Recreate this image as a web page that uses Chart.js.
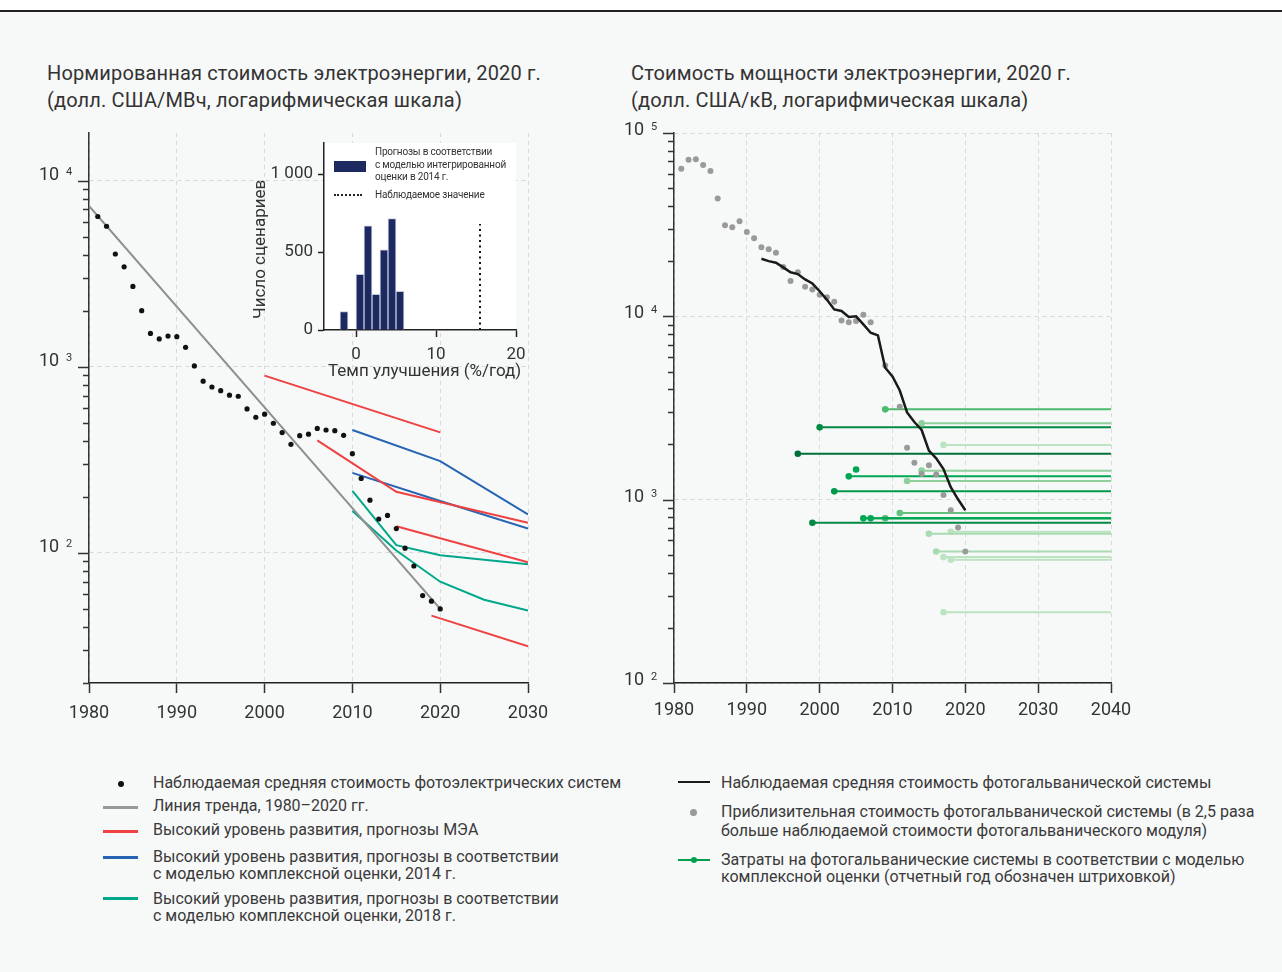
<!DOCTYPE html>
<html lang="ru">
<head>
<meta charset="utf-8">
<script src="https://cdn.jsdelivr.net/npm/chart.js@4.4.1/dist/chart.umd.min.js"></script>
<style>
  body { margin: 0; background: #fff; font-family: Roboto, "Noto Sans", sans-serif; color: #333; }
  #page { position: relative; width: 1282px; height: 972px; background: #f7f8f8; overflow: hidden; }
  #topline { position: absolute; left: 0; top: 0; width: 1282px; height: 10px; background: #fff; border-bottom: 2px solid #222; }
  .title { position: absolute; font-size: 20px; letter-spacing: 0.15px; line-height: 27px; color: #333; white-space: nowrap; }
  canvas { position: absolute; }
  .leg { position: absolute; font-size: 16px; line-height: 17px; color: #3a3a3a; white-space: nowrap; }
  .sym { position: absolute; }
  .itxt { position: absolute; font-size: 10px; line-height: 12.5px; color: #333; white-space: nowrap; letter-spacing: -0.2px; }
  .axt { position: absolute; font-size: 17px; color: #333; white-space: nowrap; }
</style>
</head>
<body>
<div id="page">
  <div id="topline"></div>

  <div class="title" style="left:47px; top:60px;">Нормированная стоимость электроэнергии, 2020 г.<br>(долл. США/МВч, логарифмическая шкала)</div>
  <div class="title" style="left:631px; top:60px;">Стоимость мощности электроэнергии, 2020 г.<br>(долл. США/кВ, логарифмическая шкала)</div>

  <canvas id="lcoe" width="560" height="640" style="left:0; top:100px;"></canvas>
  <canvas id="hist" width="290" height="250" style="left:240px; top:135px;"></canvas>
  <canvas id="capex" width="580" height="640" style="left:580px; top:100px;"></canvas>

  <!-- inset legend and titles -->
  <div class="sym" style="left:334px; top:161px; width:32px; height:11px; background:#1d2a62;"></div>
  <div class="itxt" style="left:375px; top:146px;">Прогнозы в соответствии<br>с моделью интегрированной<br>оценки в 2014 г.</div>
  <div class="sym" style="left:334px; top:194px; width:28px; border-top:2px dotted #222;"></div>
  <div class="itxt" style="left:375px; top:189px;">Наблюдаемое значение</div>
  <div class="axt" style="left:328px; top:360px;">Темп улучшения (%/год)</div>
  <div class="axt" style="left:196px; top:244px; transform: rotate(-90deg); transform-origin: 64px 11px;">Число сценариев</div>

  <!-- left legend -->
  <div class="sym" style="left:118px; top:781px; width:6px; height:6px; border-radius:50%; background:#111;"></div>
  <div class="sym" style="left:103px; top:806px; width:35px; height:3px; background:#999;"></div>
  <div class="sym" style="left:103px; top:830px; width:35px; height:3px; background:#ef4141;"></div>
  <div class="sym" style="left:103px; top:856px; width:35px; height:3px; background:#2563b3;"></div>
  <div class="sym" style="left:103px; top:897px; width:35px; height:3px; background:#00a88a;"></div>
  <div class="leg" style="left:153px; top:774px;">Наблюдаемая средняя стоимость фотоэлектрических систем</div>
  <div class="leg" style="left:153px; top:797px;">Линия тренда, 1980–2020 гг.</div>
  <div class="leg" style="left:153px; top:821px;">Высокий уровень развития, прогнозы МЭА</div>
  <div class="leg" style="left:153px; top:848px;">Высокий уровень развития, прогнозы в соответствии<br>с моделью комплексной оценки, 2014 г.</div>
  <div class="leg" style="left:153px; top:890px;">Высокий уровень развития, прогнозы в соответствии<br>с моделью комплексной оценки, 2018 г.</div>

  <!-- right legend -->
  <div class="sym" style="left:678px; top:781px; width:32px; height:2px; background:#1a1a1a;"></div>
  <div class="sym" style="left:690px; top:809px; width:7px; height:7px; border-radius:50%; background:#999;"></div>
  <div class="sym" style="left:678px; top:859px; width:32px; height:2px; background:#00a050;"></div>
  <div class="sym" style="left:691px; top:857px; width:6px; height:6px; border-radius:50%; background:#00a050;"></div>
  <div class="leg" style="left:721px; top:774px;">Наблюдаемая средняя стоимость фотогальванической системы</div>
  <div class="leg" style="left:721px; top:802px; line-height:19px;">Приблизительная стоимость фотогальванической системы (в 2,5 раза<br>больше наблюдаемой стоимости фотогальванического модуля)</div>
  <div class="leg" style="left:721px; top:851px;">Затраты на фотогальванические системы в соответствии с моделью<br>комплексной оценки (отчетный год обозначен штриховкой)</div>
</div>

<script>
// ---- left panel: levelized cost of PV electricity, USD/MWh ----
const lcoeYears = [1981, 1982, 1983, 1984, 1985, 1986, 1987, 1988, 1989, 1990,
  1991, 1992, 1993, 1994, 1995, 1996, 1997, 1998, 1999, 2000,
  2001, 2002, 2003, 2004, 2005, 2006, 2007, 2008, 2009, 2010,
  2011, 2012, 2013, 2014, 2015, 2016, 2017, 2018, 2019, 2020];
const lcoeObserved = [6410, 5680, 4030, 3440, 2700, 2000, 1510, 1410, 1460, 1450,
  1270, 1010, 836, 778, 743, 703, 694, 593, 535, 556,
  497, 443, 383, 426, 434, 466, 457, 453, 428, 341,
  251, 192, 152, 159, 135, 106, 85, 59, 55, 50];
const trendYears = [1980, 2020];
const trendValues = [7300, 50];

const ieaYears = [[2000, 2020], [2006, 2015, 2030], [2015, 2030], [2019, 2030]];
const ieaValues = [[895, 444], [402, 213, 145], [139, 89], [46, 31.5]];
const iam2014Years = [[2010, 2020, 2030], [2010, 2020, 2030]];
const iam2014Values = [[457, 311, 161], [269, 190, 135]];
const iam2018Years = [[2010, 2015, 2020, 2030], [2010, 2015, 2020, 2025, 2030]];
const iam2018Values = [[215, 110, 97, 87], [168, 103, 70, 56, 49]];

// ---- inset: distribution of improvement rates ----
const rateBins = [-1.5, 0.5, 1.5, 2.5, 3.5, 4.5, 5.5];
const scenarioCounts = [118, 358, 668, 229, 514, 715, 248];
const observedRate = 15.5;
const observedRateTop = 680;

// ---- right panel: PV system capital cost, USD/kW ----
const systemYears = [1992, 1993, 1994, 1995, 1996, 1997, 1998, 1999, 2000, 2001,
  2002, 2003, 2004, 2005, 2006, 2007, 2008, 2009, 2010, 2011,
  2012, 2013, 2014, 2015, 2016, 2017, 2018, 2019, 2020];
const systemCost = [20600, 20000, 19600, 18500, 17400, 17000, 15900, 15100, 13700, 12300,
  10900, 10700, 9910, 10000, 9040, 8140, 7870, 5240, 4700, 3940,
  2990, 2650, 2400, 1850, 1680, 1470, 1170, 1005, 875];
const moduleYears = [1981, 1982, 1983, 1984, 1985, 1986, 1987, 1988, 1989, 1990,
  1991, 1992, 1993, 1994, 1995, 1996, 1997, 1998, 1999, 2000,
  2001, 2002, 2003, 2004, 2005, 2006, 2007, 2009, 2011, 2012,
  2013, 2014, 2015, 2016, 2017, 2018, 2019, 2020];
const moduleBasedCost = [63800, 71500, 72000, 66900, 62000, 43900, 31400, 30600, 33000, 28800,
  26700, 23800, 23200, 22200, 18600, 15600, 17400, 14500, 14000, 13100,
  12700, 12000, 9500, 9270, 9420, 10200, 9270, 5400, 3210, 1920,
  1590, 1380, 1540, 1370, 1060, 875, 706, 522];
const iamStartYears = [2009, 2014, 2000, 2017, 1997, 2005, 2014, 2004, 2012, 2002,
  2011, 2006, 2007, 2009, 1999, 2015, 2018, 2016, 2017, 2018, 2017];
const iamEndYears = [2040, 2040, 2040, 2040, 2040, 2005, 2040, 2040, 2040, 2040,
  2040, 2040, 2040, 2040, 2040, 2040, 2040, 2040, 2040, 2040, 2040];
const iamCosts = [3110, 2610, 2480, 1990, 1780, 1460, 1440, 1340, 1265, 1110,
  846, 791, 791, 791, 748, 652, 668, 522, 486, 470, 243];

const FONT = 'Roboto, "Noto Sans", sans-serif';
const isPow10 = v => Math.abs(Math.log10(v) - Math.round(Math.log10(v))) < 1e-9;

function logTicks(min, max) {
  const out = [];
  for (let e = Math.floor(Math.log10(min)); e <= Math.ceil(Math.log10(max)); e++) {
    for (let m = 1; m < 10; m++) {
      const v = m * Math.pow(10, e);
      if (v >= min && v <= max) out.push(v);
    }
  }
  return out;
}

function pts(xs, ys) { return xs.map((x, i) => ({ x: x, y: ys[i] })); }

// fixed axis size, no automatic label overflow padding
function fixSize(prop, size) {
  return s => {
    s[prop] = size;
    s.paddingTop = 0; s.paddingBottom = 0; s.paddingLeft = 0; s.paddingRight = 0;
  };
}

// minor/major tick marks and "10^n" labels on the log axis
const logAxis = {
  id: 'logAxis',
  afterDraw(chart, args, opts) {
    const y = chart.scales.y, ctx = chart.ctx, x0 = chart.chartArea.left;
    ctx.save();
    ctx.strokeStyle = '#333';
    ctx.lineWidth = 1.5;
    ctx.fillStyle = '#333';
    y.ticks.forEach(t => {
      const py = Math.round(y.getPixelForValue(t.value)) + 0.5;
      const major = isPow10(t.value);
      const len = major ? 11 : 6;
      ctx.beginPath();
      ctx.moveTo(x0 - len, py);
      ctx.lineTo(x0, py);
      ctx.stroke();
      if (major) {
        ctx.textAlign = 'left';
        ctx.textBaseline = 'alphabetic';
        ctx.font = '18px ' + FONT;
        ctx.fillText('10', x0 - 50, py + opts.shift);
        ctx.font = '11px ' + FONT;
        ctx.fillText(String(Math.round(Math.log10(t.value))), x0 - 23, py + opts.shift - 5);
      }
    });
    ctx.restore();
  }
};

const whiteArea = {
  id: 'whiteArea',
  beforeDraw(chart) {
    const a = chart.chartArea, ctx = chart.ctx;
    ctx.save();
    ctx.fillStyle = '#fff';
    ctx.fillRect(a.left, a.top, a.right - a.left, a.bottom - a.top);
    ctx.restore();
  }
};

function xAxis(min, max, pad) {
  return {
    type: 'linear', min: min, max: max,
    afterFit: fixSize('height', 57),
    ticks: { stepSize: 10, color: '#333', font: { family: FONT, size: 18 }, padding: pad,
      callback: v => String(v) },
    grid: { color: '#d8d8d8', lineWidth: 1, tickLength: 10, tickColor: '#333', tickWidth: 1.5 },
    border: { color: '#222', width: 1.5, dash: [4, 4] }
  };
}

function yAxis(min, max, width) {
  return {
    type: 'logarithmic', min: min, max: max,
    afterFit: fixSize('width', width),
    afterBuildTicks: s => { s.ticks = logTicks(min, max).map(v => ({ value: v, major: isPow10(v) })); },
    ticks: { display: false },
    grid: { drawTicks: false, lineWidth: 1,
      color: c => (c.tick && isPow10(c.tick.value)) ? '#d8d8d8' : 'rgba(0,0,0,0)' },
    border: { color: '#333', width: 1.5, dash: [4, 4] }
  };
}

const lineDs = (data, color) => ({ data: data, borderColor: color, backgroundColor: color,
  borderWidth: 2, pointRadius: 0, showLine: true, tension: 0 });

// ---- left chart ----
const lcoeSets = [];
lcoeSets.push({ data: pts(lcoeYears, lcoeObserved), showLine: false, pointRadius: 2.6,
  pointBorderWidth: 0, backgroundColor: '#111', borderColor: '#111' });
lcoeSets.push(lineDs(pts(trendYears, trendValues), '#8f8f8f'));
ieaYears.forEach((ys, i) => lcoeSets.push(lineDs(pts(ys, ieaValues[i]), '#ef4141')));
iam2014Years.forEach((ys, i) => lcoeSets.push(lineDs(pts(ys, iam2014Values[i]), '#2563b3')));
iam2018Years.forEach((ys, i) => lcoeSets.push(lineDs(pts(ys, iam2018Values[i]), '#00a88a')));

new Chart(document.getElementById('lcoe').getContext('2d'), {
  type: 'scatter',
  data: { datasets: lcoeSets },
  options: {
    responsive: false, animation: false,
    layout: { padding: { top: 33, right: 32, left: 0, bottom: 0 } },
    plugins: { legend: { display: false }, tooltip: { enabled: false }, logAxis: { shift: -2 } },
    scales: { x: xAxis(1980, 2030, 10), y: yAxis(20, 18000, 89) }
  },
  plugins: [logAxis]
});

// ---- inset histogram ----
new Chart(document.getElementById('hist').getContext('2d'), {
  data: {
    datasets: [
      { type: 'line', data: [{ x: observedRate, y: 0 }, { x: observedRate, y: observedRateTop }],
        borderColor: '#111', borderWidth: 2, borderDash: [2, 3.5], pointRadius: 0 },
      { type: 'bar', data: pts(rateBins, scenarioCounts), backgroundColor: '#1d2a62',
        borderColor: '#c3c8dc', borderWidth: 1, barPercentage: 1, categoryPercentage: 1 }
    ]
  },
  options: {
    responsive: false, animation: false,
    layout: { padding: { top: 8, right: 14, left: 0, bottom: 0 } },
    plugins: { legend: { display: false }, tooltip: { enabled: false } },
    scales: {
      x: { type: 'linear', min: -4, max: 20, offset: false,
        afterFit: fixSize('height', 55),
        afterBuildTicks: s => { s.ticks = [0, 10, 20].map(v => ({ value: v })); },
        ticks: { color: '#333', font: { family: FONT, size: 17 }, padding: 8 },
        grid: { offset: false, drawOnChartArea: false, tickLength: 7, tickColor: '#222', tickWidth: 1.5 },
        border: { color: '#222', width: 1.5 } },
      y: { type: 'linear', min: 0, max: 1200,
        afterFit: fixSize('width', 84),
        afterBuildTicks: s => { s.ticks = [0, 500, 1000].map(v => ({ value: v })); },
        ticks: { color: '#333', font: { family: FONT, size: 17 }, padding: 5,
          callback: v => v === 1000 ? '1 000' : String(v) },
        grid: { drawOnChartArea: false, tickLength: 6, tickColor: '#222', tickWidth: 1.5 },
        border: { color: '#222', width: 1.5 } }
    }
  },
  plugins: [whiteArea]
});

// ---- right chart ----
function shade(year) {
  if (year <= 1997) return '#00703a';
  if (year <= 2000) return '#008a43';
  if (year <= 2003) return '#009a4a';
  if (year <= 2007) return '#00a651';
  if (year <= 2010) return '#4cbb6c';
  if (year <= 2011) return '#62c27c';
  if (year <= 2014) return '#8fd09d';
  if (year <= 2016) return '#a9dbb2';
  return '#bce3c2';
}

const capexSets = [];
capexSets.push({ data: pts(systemYears, systemCost), showLine: true, borderColor: '#1a1a1a',
  borderWidth: 2.5, pointRadius: 0, tension: 0 });
capexSets.push({ data: pts(moduleYears, moduleBasedCost), showLine: false, pointRadius: 3,
  pointBorderWidth: 0, backgroundColor: '#9a9a9a', borderColor: '#9a9a9a' });
iamStartYears.forEach((yr, i) => {
  const c = shade(yr);
  capexSets.push({ data: [{ x: yr, y: iamCosts[i] }, { x: iamEndYears[i], y: iamCosts[i] }],
    showLine: true, borderColor: c, backgroundColor: c, borderWidth: 2,
    pointBorderWidth: 0, pointRadius: ctx => ctx.dataIndex === 0 ? 3.3 : 0 });
});

new Chart(document.getElementById('capex').getContext('2d'), {
  type: 'scatter',
  data: { datasets: capexSets },
  options: {
    responsive: false, animation: false,
    layout: { padding: { top: 33, right: 49, left: 0, bottom: 0 } },
    plugins: { legend: { display: false }, tooltip: { enabled: false }, logAxis: { shift: 1.5 } },
    scales: { x: xAxis(1980, 2040, 7), y: yAxis(100, 100000, 94) }
  },
  plugins: [logAxis]
});
</script>
</body>
</html>
